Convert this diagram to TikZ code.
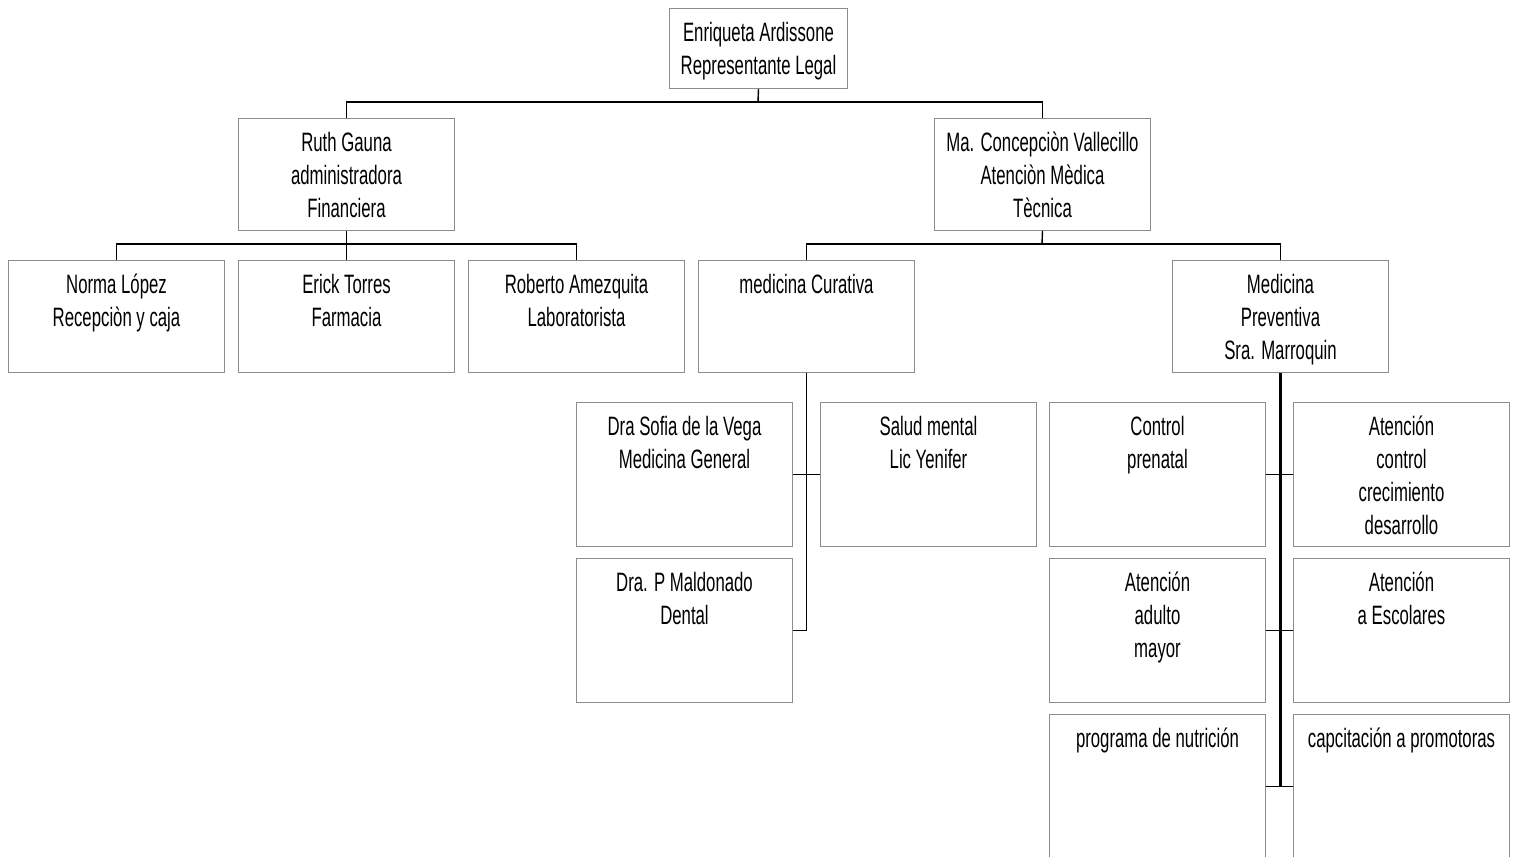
\documentclass[tikz,border=0pt]{standalone}
\usepackage{fontspec}
\setmainfont{Liberation Sans}[FakeStretch=0.63]
\usepackage{tikz}
\usetikzlibrary{calc}
\newcommand{\orgfont}{\fontsize{13.3}{16.5}\selectfont}

\begin{document}
\begin{tikzpicture}[
    x=0.5pt, y=-0.5pt,
    org box/.style={draw=black!45, line width=0.5pt, anchor=north west,
        inner sep=0pt, minimum width=108pt, minimum height=56pt},
    tall box/.style={org box, minimum height=72pt},
    org text/.style={anchor=north, align=center, inner sep=0pt,
        font=\orgfont, yshift=-7pt},
    tree line/.style={line width=0.7pt, black},
    main line/.style={line width=1.2pt, black}
    ]
    \useasboundingbox (0,0) rectangle (1517,857);
    \clip (0,0) rectangle (1517,857);

    % head
    \node[org box, minimum width=89pt, minimum height=40pt] (top) at (669,8) {};
    \node[org text] (top-t) at (top.north) {Enriqueta Ardissone\\Representante Legal};
    % second level
    \node[org box] (ruth) at (238,118) {};
    \node[org text] (ruth-t) at (ruth.north) {Ruth Gauna\\administradora\\Financiera};
    \node[org box] (conc) at (934,118) {};
    \node[org text] (conc-t) at (conc.north) {Ma. Concepciòn Vallecillo\\Atenciòn Mèdica\\Tècnica};
    % administration
    \node[org box] (norma) at (8,260) {};
    \node[org text] (norma-t) at (norma.north) {Norma López\\Recepciòn y caja};
    \node[org box] (erick) at (238,260) {};
    \node[org text] (erick-t) at (erick.north) {Erick Torres\\Farmacia};
    \node[org box] (roberto) at (468,260) {};
    \node[org text] (roberto-t) at (roberto.north) {Roberto Amezquita\\Laboratorista};
    % medical
    \node[org box] (curativa) at (698,260) {};
    \node[org text] (curativa-t) at (curativa.north) {medicina Curativa};
    \node[org box] (preventiva) at (1172,260) {};
    \node[org text] (preventiva-t) at (preventiva.north) {Medicina\\Preventiva\\Sra. Marroquin};
    % curative
    \node[tall box] (sofia) at (576,402) {};
    \node[org text] (sofia-t) at (sofia.north) {Dra Sofia de la Vega\\Medicina General};
    \node[tall box] (salud) at (820,402) {};
    \node[org text] (salud-t) at (salud.north) {Salud mental\\Lic Yenifer};
    \node[tall box] (dental) at (576,558) {};
    \node[org text] (dental-t) at (dental.north) {Dra. P Maldonado\\Dental};
    % preventive
    \node[tall box] (prenatal) at (1049,402) {};
    \node[org text] (prenatal-t) at (prenatal.north) {Control\\prenatal};
    \node[tall box] (crecimiento) at (1293,402) {};
    \node[org text] (crecimiento-t) at (crecimiento.north) {Atención\\control\\crecimiento\\desarrollo};
    \node[tall box] (adulto) at (1049,558) {};
    \node[org text] (adulto-t) at (adulto.north) {Atención\\adulto\\mayor};
    \node[tall box] (escolares) at (1293,558) {};
    \node[org text] (escolares-t) at (escolares.north) {Atención\\a Escolares};
    \node[tall box] (nutricion) at (1049,714) {};
    \node[org text] (nutricion-t) at (nutricion.north) {programa de nutrición};
    \node[tall box] (promotoras) at (1293,714) {};
    \node[org text] (promotoras-t) at (promotoras.north) {capcitación a promotoras};

    % buses
    \coordinate (bus1) at (758,102);
    \coordinate (bus2) at (346,244);
    \coordinate (bus3) at (1042,244);
    \draw[tree line] (top.south) -- (bus1);
    \draw[tree line] (ruth.north) |- (bus1) -| (conc.north);
    \draw[tree line] (ruth.south) -- (erick.north);
    \draw[tree line] (norma.north) |- (bus2) -| (roberto.north);
    \draw[tree line] (conc.south) -- (bus3);
    \draw[tree line] (curativa.north) |- (bus3) -| (preventiva.north);
    % curative branch
    \draw[tree line] (curativa.south) -- (curativa.south |- dental.east) -- (dental.east);
    \draw[tree line] (sofia.east) -- (salud.west);
    % preventive branch
    \draw[main line] (preventiva.south) -- (preventiva.south |- nutricion.east);
    \draw[tree line] (prenatal.east) -- (crecimiento.west);
    \draw[tree line] (adulto.east) -- (escolares.west);
    \draw[tree line] (nutricion.east) -- (promotoras.west);
\end{tikzpicture}
\end{document}
